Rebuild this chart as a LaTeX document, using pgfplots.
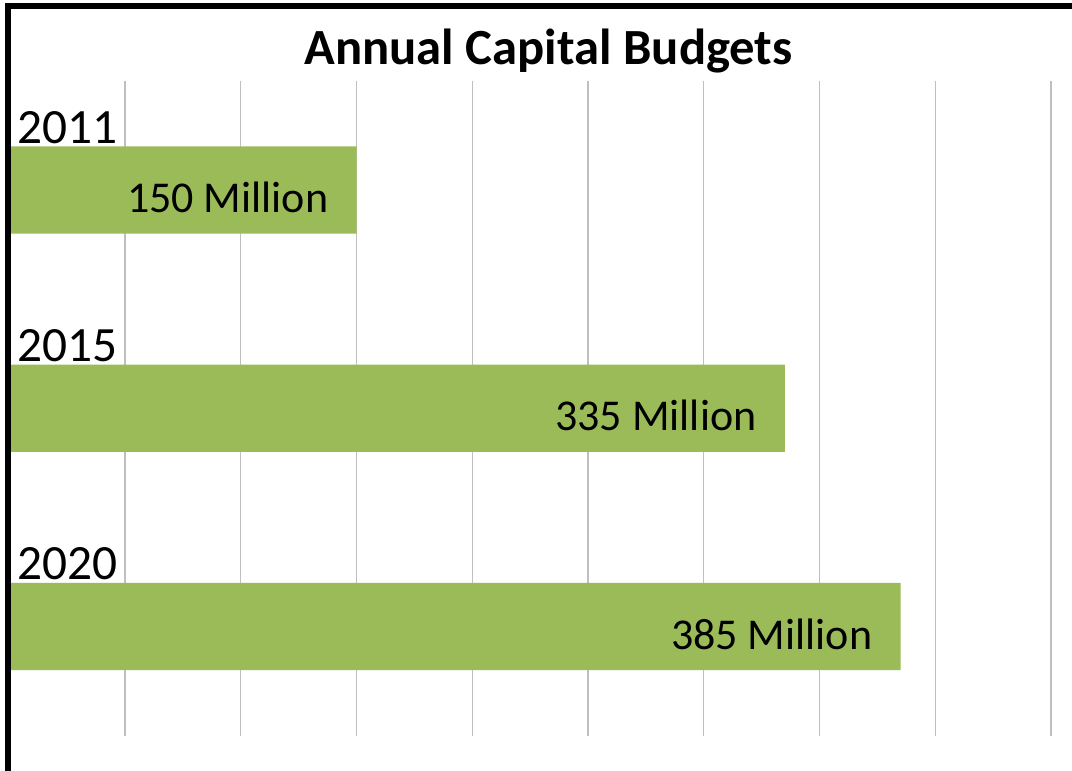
\documentclass[border=0pt]{standalone}
\usepackage{pgfplots}
\pgfplotsset{compat=1.18}
\usepackage{fontspec}
\setmainfont{Carlito}
\definecolor{bargreen}{HTML}{9BBB59}
\definecolor{gridgray}{HTML}{BFBFBF}
\begin{document}
\begin{tikzpicture}
\useasboundingbox (0pt,0pt) rectangle (804pt,578.25pt);
\begin{axis}[
  at={(6.94pt,26.55pt)}, anchor=south west,
  scale only axis, width=797.06pt, height=491.0pt,
  xmin=0, xmax=459.07, ymin=-0.5, ymax=2.5, y dir=reverse,
  xtick={50,100,...,450}, xticklabels={}, ytick=\empty,
  xmajorgrids, grid style={gridgray, line width=1.1pt},
  axis line style={draw=none}, major tick length=0pt,
  xbar, bar width=0.4,
  clip=false,
  point meta=explicit symbolic,
  nodes near coords,
  nodes near coords style={anchor=base east, inner sep=0pt, xshift=-21pt, yshift=-17pt, font=\fontsize{33}{36}\selectfont, text=black},
]
\addplot[fill=bargreen, draw=none] coordinates {(150,0) [150 Million] (335,1) [335 Million] (385,2) [385 Million]};
\node[anchor=base west, inner sep=0pt, xshift=6pt, yshift=35pt, font=\fontsize{37}{40}\selectfont] at (axis cs:0,0) {2011};
\node[anchor=base west, inner sep=0pt, xshift=6pt, yshift=35pt, font=\fontsize{37}{40}\selectfont] at (axis cs:0,1) {2015};
\node[anchor=base west, inner sep=0pt, xshift=6pt, yshift=35pt, font=\fontsize{37}{40}\selectfont] at (axis cs:0,2) {2020};
\end{axis}
\node[font=\bfseries\fontsize{38}{40}\selectfont, anchor=base, inner sep=0pt] at (411.4pt,529.5pt) {Annual Capital Budgets};
\draw[line width=4.5pt, line join=miter] (6pt,-5pt) -- (6pt,574.1pt) -- (810pt,574.1pt);
\end{tikzpicture}
\end{document}
